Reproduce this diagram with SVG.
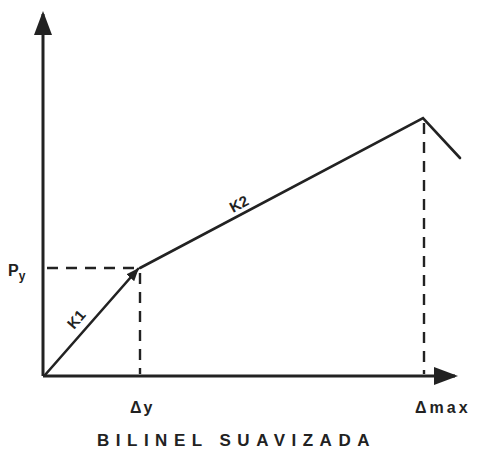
<svg xmlns="http://www.w3.org/2000/svg" width="480" height="455" viewBox="0 0 480 455">
<style>
.ax{stroke:#222;stroke-width:3;fill:none}
.ln{stroke:#222;stroke-width:2.6;fill:none;stroke-linecap:round}
.ds{stroke:#222;stroke-width:2.4;fill:none;stroke-dasharray:11,8}
.t{font-family:"Liberation Sans",Arial,sans-serif;fill:#222;font-weight:bold}
</style>
<defs>
<marker id="ah" markerWidth="8" markerHeight="6" refX="7" refY="3" orient="auto" markerUnits="strokeWidth">
<path d="M0,0 L8,3 L0,6 Z" fill="#222"/>
</marker>
<marker id="sh" markerWidth="5" markerHeight="4" refX="4.5" refY="2" orient="auto" markerUnits="strokeWidth">
<path d="M0,0 L5,2 L0,4 Z" fill="#222"/>
</marker>
</defs>
<rect width="480" height="455" fill="#fff"/>
<g id="connectors">
<line class="ax" x1="43" y1="376" x2="43" y2="14" marker-end="url(#ah)"/>
<line class="ax" x1="43" y1="376" x2="455" y2="376" marker-end="url(#ah)"/>
<line class="ds" x1="47" y1="268" x2="136" y2="268"/>
<line class="ds" x1="140" y1="273" x2="140" y2="374"/>
<line class="ds" x1="424" y1="123" x2="424" y2="374"/>
<line class="ln" x1="45" y1="375" x2="138" y2="269" marker-end="url(#sh)"/>
<polyline class="ln" points="140,268 423,118 460,158"/>
</g>
<g id="labels">
<text class="t" x="8" y="276" font-size="16" font-weight="normal">P<tspan font-size="12" dy="4">y</tspan></text>
<text class="t" x="0" y="0" font-size="15" transform="translate(74,330) rotate(-49)">K1</text>
<text class="t" x="0" y="0" font-size="15" transform="translate(233,213) rotate(-28)">K2</text>
<text class="t" x="130" y="413" font-size="16" letter-spacing="2">Δy</text>
<text class="t" x="415" y="413" font-size="16" letter-spacing="3">Δmax</text>
<text class="t" x="97" y="446" font-size="17" letter-spacing="6.5">BILINEL SUAVIZADA</text>
</g>
</svg>
